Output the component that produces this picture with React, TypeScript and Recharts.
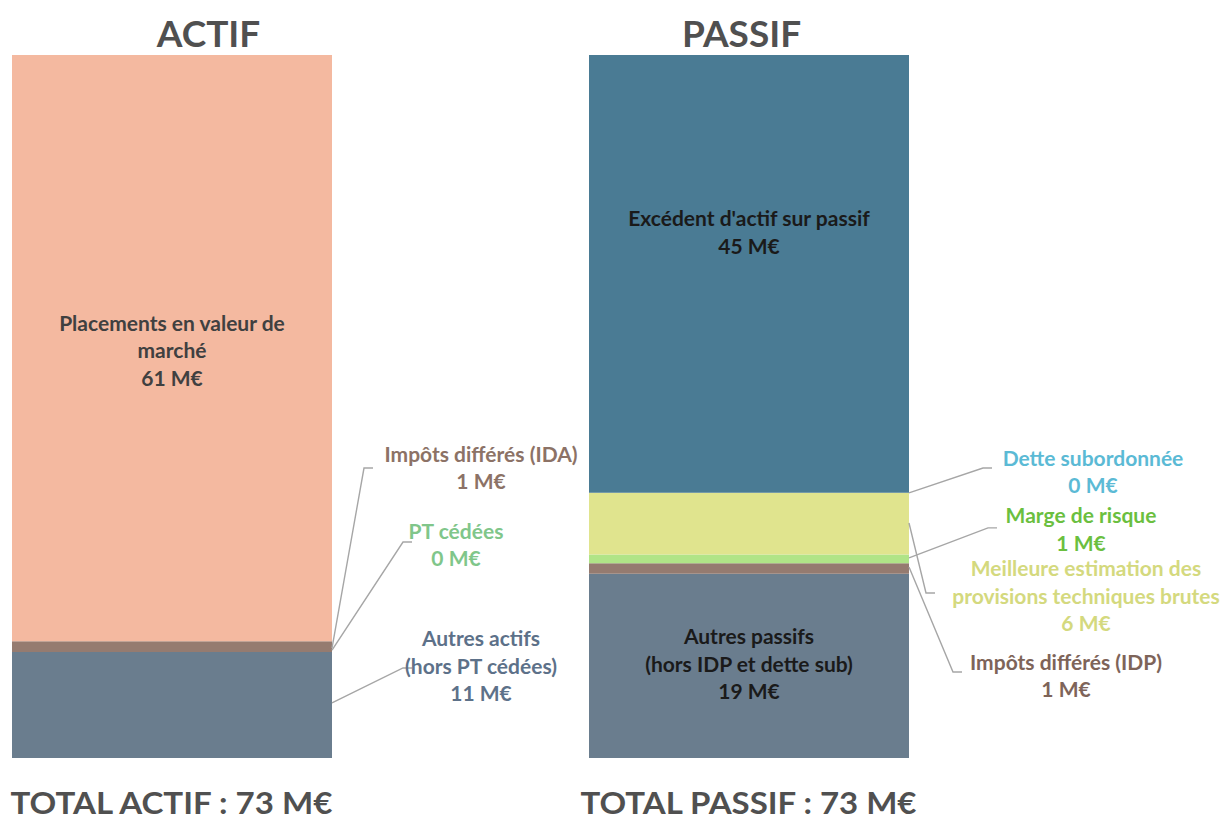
import React from "react";
import { BarChart, Bar, XAxis, YAxis, LabelList } from "recharts";

const categories = ["ACTIF", "PASSIF"];
const totalNames = ["TOTAL ACTIF", "TOTAL PASSIF"];

// M€ (one value per category)
const autresActifs = [11.0, 0];
const impotsDifferesActif = [1.1, 0];
const ptCedees = [0, 0];
const placements = [60.8, 0];
const autresPassifs = [0, 19.1];
const impotsDifferesPassif = [0, 1.1];
const margeRisque = [0, 0.9];
const meilleureEstimation = [0, 6.4];
const detteSubordonnee = [0, 0];
const excedent = [0, 45.4];

const FONT = "Lato, 'Open Sans', sans-serif";
const LINE = 27.5;
const LEADER = "#a6a6a6";
const titleShift = [37, -7];

interface Serie {
  key: string;
  values: number[];
  cat: number;
  fill: string;
  text: string;
  lines: string[];
  inside?: { dy: number };
  callout?: { ady: number; edx: number; edy: number; tdx: number; tdy: number };
}

// stacking order, bottom to top
const series: Serie[] = [
  {
    key: "autresActifs", values: autresActifs, cat: 0, fill: "#6a7d8e", text: "#5d7189",
    lines: ["Autres actifs", "(hors PT cédées)"],
    callout: { ady: -2, edx: 71, edy: -37, tdx: 149, tdy: -67 },
  },
  {
    key: "impotsDifferesActif", values: impotsDifferesActif, cat: 0, fill: "#957b70", text: "#8c7266",
    lines: ["Impôts différés (IDA)"],
    callout: { ady: 1.4, edx: 32, edy: -178.6, tdx: 149, tdy: -193.6 },
  },
  {
    key: "ptCedees", values: ptCedees, cat: 0, fill: "#b0e487", text: "#80c68a",
    lines: ["PT cédées"],
    callout: { ady: 8.7, edx: 71, edy: -99.3, tdx: 124, tdy: -111.3 },
  },
  {
    key: "placements", values: placements, cat: 0, fill: "#f4b9a0", text: "#404040",
    lines: ["Placements en valeur de", "marché"],
    inside: { dy: -26 },
  },
  {
    key: "autresPassifs", values: autresPassifs, cat: 1, fill: "#6a7d8e", text: "#1a1a1a",
    lines: ["Autres passifs", "(hors IDP et dette sub)"],
    inside: { dy: -30 },
  },
  {
    key: "impotsDifferesPassif", values: impotsDifferesPassif, cat: 1, fill: "#957b70", text: "#7e6459",
    lines: ["Impôts différés (IDP)"],
    callout: { ady: -1.5, edx: 44, edy: 103.5, tdx: 157, tdy: 92.5 },
  },
  {
    key: "margeRisque", values: margeRisque, cat: 1, fill: "#b0e487", text: "#6bbf3f",
    lines: ["Marge de risque"],
    callout: { ady: -1, edx: 79, edy: -31, tdx: 172, tdy: -44 },
  },
  {
    key: "meilleureEstimation", values: meilleureEstimation, cat: 1, fill: "#e0e48e", text: "#d4d97e",
    lines: ["Meilleure estimation des", "provisions techniques brutes"],
    callout: { ady: -0.7, edx: 17, edy: 69.3, tdx: 177, tdy: 44.3 },
  },
  {
    key: "detteSubordonnee", values: detteSubordonnee, cat: 1, fill: "#5bbad5", text: "#5bbad5",
    lines: ["Dette subordonnée"],
    callout: { ady: 0, edx: 74, edy: -24.8, tdx: 184, tdy: -35.8 },
  },
  {
    key: "excedent", values: excedent, cat: 1, fill: "#4a7b94", text: "#1a1a1a",
    lines: ["Excédent d'actif sur passif"],
    inside: { dy: -56 },
  },
];

const data = categories.map((name, i) => {
  const row: Record<string, string | number> = { name };
  series.forEach((s) => {
    row[s.key] = s.values[i];
  });
  return row;
});

const totals = categories.map((_, i) =>
  series.reduce((sum, s) => sum + s.values[i], 0)
);

const fmt = (v: number) => `${Math.round(v)} M€`;

function drawLabel(s: Serie, x: number, w: number, mid: number, k0: string) {
  const lines = [...s.lines, fmt(s.values[s.cat])];
  const right = x + w;
  const texts = (cx: number, y0: number) =>
    lines.map((t, k) => (
      <text
        key={k0 + k}
        x={cx}
        y={y0 + k * LINE}
        textAnchor="middle"
        dominantBaseline="central"
        fontFamily={FONT}
        fontWeight={700}
        fontSize={21}
        fill={s.text}
      >
        {t}
      </text>
    ));

  if (s.inside) {
    return <g key={k0}>{texts(x + w / 2, mid + s.inside.dy)}</g>;
  }
  const c = s.callout!;
  const ay = mid + c.ady;
  const ex = right + c.edx;
  const ey = mid + c.edy;
  return (
    <g key={k0}>
      <polyline
        points={`${right},${ay} ${ex},${ey} ${ex + 9},${ey}`}
        fill="none"
        stroke={LEADER}
        strokeWidth={1.4}
      />
      {texts(right + c.tdx, mid + c.tdy)}
    </g>
  );
}

// a segment draws its own label, plus those of the empty (0 M€) segments stacked right on top of it
function makeLabel(si: number) {
  const s = series[si];
  return (props: any) => {
    const vb = props.viewBox || props;
    const x = Number(vb.x);
    const y = Number(vb.y);
    const w = Number(vb.width);
    const h = Number(vb.height);
    if (!(Math.abs(h) > 0)) return null;
    const top = h < 0 ? y + h : y;
    const out = [drawLabel(s, x, w, top + Math.abs(h) / 2, s.key)];
    for (let j = si + 1; j < series.length; j++) {
      const n = series[j];
      if (n.cat !== s.cat) continue;
      if (n.values[n.cat] !== 0) break;
      out.push(drawLabel(n, x, w, top, n.key));
    }
    return <g>{out}</g>;
  };
}

const TitleTick = (props: any) => {
  const { x, y, payload } = props;
  const i = categories.indexOf(payload.value);
  return (
    <text
      x={x + titleShift[i]}
      y={y}
      textAnchor="middle"
      fontFamily={FONT}
      fontWeight={700}
      fontSize={37}
      fill="#505050"
    >
      {payload.value}
    </text>
  );
};

const TotalTick = (props: any) => {
  const { x, y, payload } = props;
  const i = categories.indexOf(payload.value);
  return (
    <text
      x={x}
      y={y + 48}
      textAnchor="middle"
      fontFamily={FONT}
      fontWeight={700}
      fontSize={31}
      fill="#505050"
      textLength={i === 0 ? 322 : 336}
      lengthAdjust="spacingAndGlyphs"
    >
      {`${totalNames[i]} : ${fmt(totals[i])}`}
    </text>
  );
};

export default function App() {
  return (
    <div
      style={{
        position: "fixed",
        left: 0,
        top: 0,
        width: 1225,
        height: 821,
        background: "#fff",
        overflow: "hidden",
      }}
    >
      <BarChart
        width={1225}
        height={821}
        data={data}
        margin={{ top: 0, right: 188, bottom: 0, left: -117 }}
        barSize={320}
      >
        <XAxis
          xAxisId="top"
          orientation="top"
          dataKey="name"
          height={55}
          axisLine={false}
          tickLine={false}
          tick={<TitleTick />}
        />
        <XAxis
          xAxisId="bottom"
          dataKey="name"
          height={63}
          axisLine={false}
          tickLine={false}
          tick={<TotalTick />}
        />
        <YAxis hide domain={[0, "dataMax"]} />
        {series.map((s, si) => (
          <Bar
            key={s.key}
            xAxisId="bottom"
            dataKey={s.key}
            stackId="bilan"
            fill={s.fill}
            isAnimationActive={false}
          >
            <LabelList dataKey={s.key} content={makeLabel(si)} />
          </Bar>
        ))}
      </BarChart>
    </div>
  );
}
